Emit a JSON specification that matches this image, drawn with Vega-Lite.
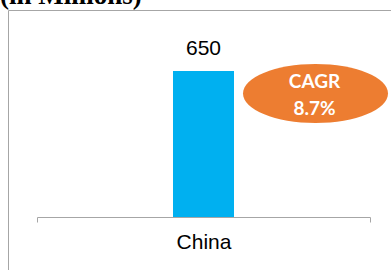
{
  "$schema": "https://vega.github.io/schema/vega-lite/v6.json",
  "autosize": "none",
  "padding": {"left": 8, "top": 10, "right": 0, "bottom": 0},
  "width": 400,
  "height": 280,
  "background": "white",
  "config": {
    "view": {"stroke": "#a6a6a6", "strokeWidth": 1}
  },
  "data": {
    "values": [
      {"country": "China", "value": 650, "cagrLabel": "CAGR", "cagrValue": "8.7%", "unit": "(in Millions)"}
    ]
  },
  "encoding": {
    "x": {
      "field": "country",
      "type": "nominal",
      "scale": {"range": [29, 362], "paddingInner": 0, "paddingOuter": 0},
      "axis": {
        "title": null,
        "labelAngle": 0,
        "tickBand": "extent",
        "domainColor": "#a6a6a6",
        "tickColor": "#a6a6a6",
        "tickSize": 5,
        "offset": -73,
        "labelFont": "Liberation Sans",
        "labelFontSize": 21,
        "labelColor": "black",
        "labelPadding": 9
      }
    }
  },
  "layer": [
    {
      "mark": {"type": "bar", "color": "#00B0F0", "width": 61},
      "encoding": {
        "y": {
          "field": "value",
          "type": "quantitative",
          "scale": {"domain": [0, 921], "range": [207, 0], "nice": false, "zero": true},
          "axis": null
        }
      }
    },
    {
      "mark": {"type": "text", "baseline": "alphabetic", "dy": -16, "font": "Liberation Sans", "fontSize": 21, "color": "black"},
      "encoding": {
        "y": {"field": "value", "type": "quantitative"},
        "text": {"field": "value", "type": "quantitative"}
      }
    },
    {
      "mark": {"type": "text", "baseline": "alphabetic", "align": "left", "xOffset": -203.5, "font": "Liberation Serif", "fontSize": 27, "fontWeight": "bold", "color": "black"},
      "encoding": {
        "y": {"datum": 948, "type": "quantitative"},
        "text": {"field": "unit", "type": "nominal"}
      }
    },
    {
      "mark": {"type": "point", "filled": true, "color": "#ED7D31", "opacity": 1, "xOffset": 112, "size": 21025, "shape": "M-1,0 A1,0.407 0 1,0 1,0 A1,0.407 0 1,0 -1,0 Z"},
      "encoding": {
        "y": {"datum": 549, "type": "quantitative"}
      }
    },
    {
      "mark": {"type": "text", "color": "white", "xOffset": 111, "dy": -12, "font": "Lato", "fontWeight": "bold", "fontSize": 19, "baseline": "middle"},
      "encoding": {
        "y": {"datum": 549, "type": "quantitative"},
        "text": {"field": "cagrLabel", "type": "nominal"}
      }
    },
    {
      "mark": {"type": "text", "color": "white", "xOffset": 111, "dy": 15, "font": "Lato", "fontWeight": "bold", "fontSize": 19, "baseline": "middle"},
      "encoding": {
        "y": {"datum": 549, "type": "quantitative"},
        "text": {"field": "cagrValue", "type": "nominal"}
      }
    }
  ]
}
